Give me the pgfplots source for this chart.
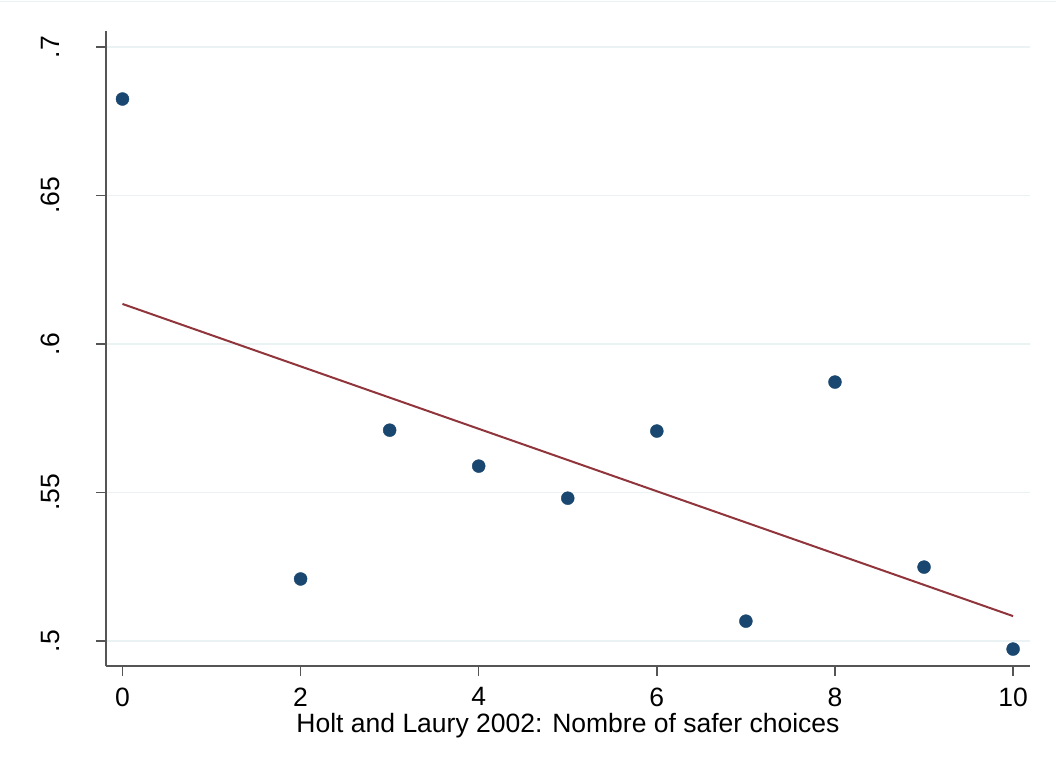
\documentclass[border=0pt]{standalone}
\usepackage{pgfplots}
\pgfplotsset{compat=1.18}
\usepackage{fontspec}
\setmainfont{Liberation Sans}
\definecolor{stnavy}{RGB}{26,71,111}
\definecolor{stmaroon}{RGB}{144,53,59}
\definecolor{stgrid}{RGB}{234,242,243}
\definecolor{staxis}{RGB}{85,85,85}
\begin{document}
\begin{tikzpicture}
\begin{axis}[
  scale only axis,
  width=924pt, height=635pt,
  xmin=-0.185, xmax=10.19,
  ymin=0.4916, ymax=0.7054,
  axis lines*=left,
  axis line style={staxis, line width=1.6pt, -},
  xtick={0,2,4,6,8,10},
  ytick={0.5,0.55,0.6,0.65,0.7},
  yticklabels={.5,.55,.6,.65,.7},
  tick style={staxis, line width=1.4pt},
  tick align=outside,
  major tick length=10pt,
  ymajorgrids,
  grid style={stgrid, line width=1.6pt},
  /pgf/number format/assume math mode=true,
  ticklabel style={font=\fontsize{26.5}{30}\selectfont},
  yticklabel style={rotate=90, anchor=south, yshift=33pt},
  xticklabel style={yshift=-8pt},
  xlabel={Holt and Laury 2002: Nombre of safer choices},
  xlabel style={font=\fontsize{26.5}{30}\selectfont, at={(axis description cs:0.5,0)}, anchor=center, yshift=-60pt},
  clip=false,
]
\addplot[only marks, mark=*, mark size=6.5pt, mark options={fill=stnavy, draw=stnavy}] coordinates {
(0,0.6825) (2,0.5209) (3,0.5710) (4,0.5589) (5,0.5481) (6,0.5707) (7,0.5067) (8,0.5872) (9,0.5249) (10,0.4973)
};
\addplot[stmaroon, line width=2pt] coordinates {(0,0.6135) (10,0.5084)};
\end{axis}
\path[use as bounding box] (-106pt,-105pt) rectangle (950pt,666pt);
\draw[stgrid, line width=1pt] (-106pt,664pt) -- (950pt,664pt);
\end{tikzpicture}
\end{document}
